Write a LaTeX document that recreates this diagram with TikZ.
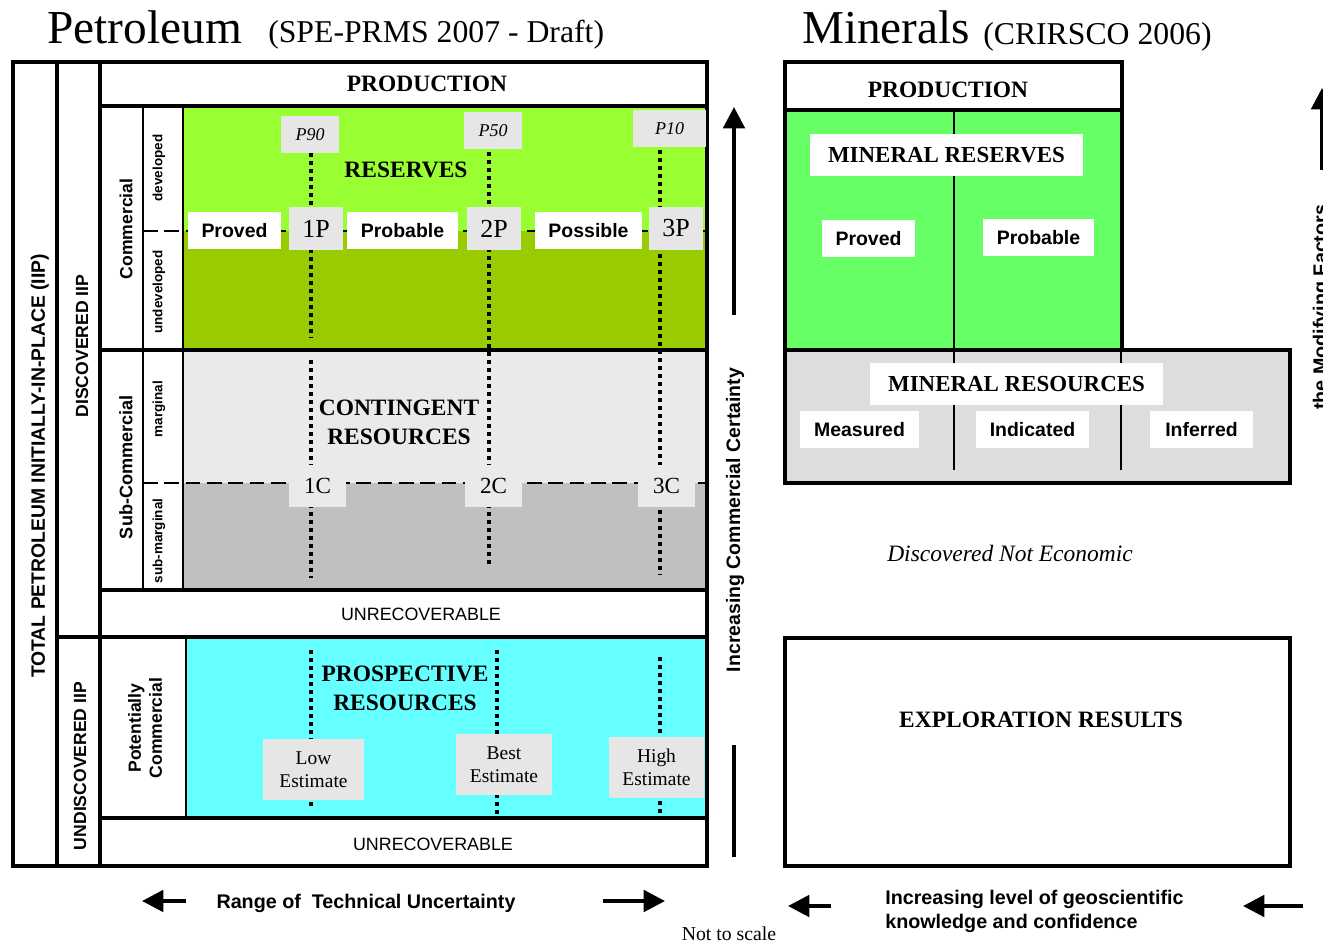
\documentclass[tikz,border=0pt]{standalone}
\usepackage{fontspec}
\setmainfont{Liberation Serif}
\setsansfont{Liberation Sans}
\usetikzlibrary{arrows.meta,positioning}

% font size and baselineskip in pt
\newcommand{\fsz}[2]{\fontsize{#1}{#2}\selectfont}

% column edges (px, left chart)
\newcommand{\xTot}{13}
\newcommand{\xDis}{57}
\newcommand{\xTab}{100}
\newcommand{\xCom}{143}
\newcommand{\xSub}{183}
\newcommand{\xEnd}{707}
% row edges
\newcommand{\yTop}{62}
\newcommand{\yProd}{106}
\newcommand{\ySplitR}{231}
\newcommand{\yCom}{350}
\newcommand{\ySplitC}{483}
\newcommand{\ySub}{590}
\newcommand{\yUnr}{637}
\newcommand{\yPro}{818}
\newcommand{\yBot}{866}

\definecolor{resvlight}{HTML}{99FF33}
\definecolor{resvdark}{HTML}{99CC00}
\definecolor{contlight}{HTML}{EAEAEA}
\definecolor{contdark}{HTML}{C0C0C0}
\definecolor{prospcyan}{HTML}{66FFFF}
\definecolor{taggrey}{HTML}{E6E6E6}
\definecolor{minegreen}{HTML}{66FF66}
\definecolor{minegrey}{HTML}{DDDDDD}

% name/x/y/width/text
\def\ptags{
  p90/310/134.5/58/P90,
  p50/493/130.5/58/P50,
  p10/669.5/128.5/73/P10
}
\def\reserveplates{
  proved/234.5/93/Proved,
  probable/402.5/111/Probable,
  possible/588.5/107/Possible
}

\tikzset{
  boxline/.style   = {line width=2.6pt, draw=black},
  colline/.style   = {line width=1.9pt, draw=black},
  divline/.style   = {line width=1.1pt, draw=black},
  splitline/.style = {line width=2pt, dash pattern=on 11pt off 5pt},
  pline/.style     = {line width=2.4pt, dash pattern=on 3pt off 3pt},
  boxwh/.style 2 args = {minimum width=#1*0.75pt, minimum height=#2*0.75pt},
  heading/.style   = {inner sep=0pt, font=\bfseries\fsz{17.6}{21.8}, align=center},
  tagbox/.style    = {fill=taggrey, inner sep=0pt},
  platebox/.style  = {fill=white, inner sep=0pt, font=\sffamily\bfseries\fsz{14.6}{17}},
  sidelabel/.style = {rotate=90, inner sep=0pt, font=\sffamily\bfseries\fsz{13.2}{15.8}, align=center},
  smallside/.style = {rotate=90, inner sep=0pt, font=\sffamily\bfseries\fsz{10.1}{12}},
  plainsans/.style = {inner sep=0pt, font=\sffamily\fsz{13.4}{16}},
  bigarrow/.style  = {-{Triangle[length=16pt,width=16pt]}, line width=3pt},
}

\begin{document}
\begin{tikzpicture}[x=0.75pt, y=-0.75pt]
  \useasboundingbox (0,0) rectangle (1323,943);

  % titles
  \node[anchor=base west, inner sep=0pt, font=\fsz{35.5}{40}] (pettitle) at (47,43) {Petroleum};
  \node[anchor=base west, inner sep=0pt, font=\fsz{23.8}{28}] (petsub) at (268,42) {(SPE-PRMS 2007 - Draft)};
  \node[anchor=base west, inner sep=0pt, font=\fsz{35.4}{40}] (mintitle) at (802,43) {Minerals};
  \node[anchor=base west, inner sep=0pt, font=\fsz{23.8}{28}] (minsub) at (983,44) {(CRIRSCO 2006)};

  %% ---------------- Petroleum chart ----------------
  % class fills
  \fill[resvlight] (\xSub,\yProd) rectangle (\xEnd,\ySplitR);
  \fill[resvdark]  (\xSub,\ySplitR) rectangle (\xEnd,\yCom);
  \fill[contlight] (\xSub,\yCom) rectangle (\xEnd,\ySplitC);
  \fill[contdark]  (\xSub,\ySplitC) rectangle (\xEnd,\ySub);
  \fill[prospcyan] (186,\yUnr) rectangle (\xEnd,\yPro);

  % frame, rows and columns
  \draw[boxline] (\xTot,\yTop) rectangle (\xEnd,\yBot);
  \draw[boxline] (\xDis,\yTop) -- (\xDis,\yBot);
  \draw[boxline] (\xTab,\yTop) -- (\xTab,\yBot);
  \draw[boxline] (\xTab,\yProd) -- (\xEnd,\yProd);
  \draw[boxline] (\xTab,\yCom) -- (\xEnd,\yCom);
  \draw[boxline] (\xTab,\ySub) -- (\xEnd,\ySub);
  \draw[boxline] (\xDis,\yUnr) -- (\xEnd,\yUnr);
  \draw[boxline] (\xTab,\yPro) -- (\xEnd,\yPro);
  \draw[colline] (\xCom,\yProd) -- (\xCom,\ySub);
  \draw[colline] (\xSub,\yProd) -- (\xSub,\ySub);
  \draw[colline] (186,\yUnr) -- (186,\yPro);

  % developed / marginal splits
  \draw[splitline] (\xCom,\ySplitR) -- (\xEnd,\ySplitR);
  \draw[splitline] (\xCom,\ySplitC) -- (\xEnd,\ySplitC);

  % uncertainty guides
  \draw[pline] (311,153) -- (311,338);
  \draw[pline] (311,360) -- (311,578);
  \draw[pline] (489,152) -- (489,567);
  \draw[pline] (660,150) -- (660,575);
  \draw[pline] (311,650) -- (311,807);
  \draw[pline] (497,650) -- (497,815);
  \draw[pline] (660,657) -- (660,813);

  % probability tags
  \foreach \nm/\xx/\yy/\ww/\txt in \ptags {
    \node[tagbox, boxwh={\ww}{37}, font=\itshape\fsz{13.5}{16}] (\nm) at (\xx,\yy) {\txt};
  }
  \foreach \nm/\xx/\ww/\txt in \reserveplates {
    \node[platebox, boxwh={\ww}{37}] (\nm) at (\xx,230.5) {\txt};
  }
  \foreach \nm/\xx/\txt in {cumP1/316/1P, cumP2/494/2P, cumP3/676/3P} {
    \node[tagbox, boxwh={54}{43}, font=\fsz{19.5}{22}] (\nm) at (\xx,228.5) {\txt};
  }
  \foreach \nm/\xx/\txt in {cumC1/317.5/1C, cumC2/493.5/2C, cumC3/666.5/3C} {
    \node[tagbox, fill=contlight, boxwh={57}{42}, font=\fsz{17.3}{20}] (\nm) at (\xx,486) {\txt};
  }
  \node[tagbox, boxwh={101}{61}, font=\fsz{14.6}{17.3}, align=center] (lowest) at (313.5,769.5) {Low\\Estimate};
  \node[tagbox, boxwh={96}{61}, font=\fsz{14.6}{17.3}, align=center] (bestest) at (504,764.5) {Best\\Estimate};
  \node[tagbox, boxwh={95}{61}, font=\fsz{14.6}{17.3}, align=center] (highest) at (656.5,767.5) {High\\Estimate};

  % class names
  \node[heading] (prodL) at (427,84) {PRODUCTION};
  \node[heading] (reserves) at (406,170) {RESERVES};
  \node[heading] (contingent) at (399,422) {CONTINGENT\\RESOURCES};
  \node[heading] (prospective) at (405,688) {PROSPECTIVE\\RESOURCES};
  \node[plainsans] (unrecA) at (421,614) {UNRECOVERABLE};
  \node[plainsans] (unrecB) at (433,844) {UNRECOVERABLE};

  % side captions
  \node[sidelabel, font=\sffamily\bfseries\fsz{14.5}{17}] (total) at (40,466) {TOTAL PETROLEUM INITIALLY-IN-PLACE (IIP)};
  \node[sidelabel] (discovered) at (82,346) {DISCOVERED IIP};
  \node[sidelabel] (undiscovered) at (80,766) {UNDISCOVERED IIP};
  \node[sidelabel] (commercial) at (126,229) {Commercial};
  \node[sidelabel, font=\sffamily\bfseries\fsz{13.6}{16}] (subcommercial) at (126,467) {Sub-Commercial};
  \node[smallside] (developed) at (159,168) {developed};
  \node[smallside] (undeveloped) at (159,292) {undeveloped};
  \node[smallside] (marginal) at (159,409) {marginal};
  \node[smallside] (submarginal) at (159,541) {sub-marginal};
  \node[sidelabel] (potcommercial) at (145,728) {Potentially\\Commercial};

  % commercial certainty axis
  \coordinate (certlow) at (734,315);
  \coordinate (certhigh) at (734,107);
  \coordinate (certfoot) at (734,745);
  \coordinate (certbase) at (734,857);
  \draw[bigarrow] (certlow) -- (certhigh);
  \draw[line width=3pt] (certfoot) -- (certbase);
  \node[sidelabel, font=\sffamily\bfseries\fsz{14.6}{17}] (certainty) at (735,520) {Increasing Commercial Certainty};

  % technical uncertainty axis
  \node[inner sep=0pt, font=\sffamily\bfseries\fsz{14.8}{17}] (range) at (366,903) {Range of\ \ Technical Uncertainty};
  \coordinate (rangeLa) at (186,901);
  \coordinate (rangeLb) at (142,901);
  \coordinate (rangeRa) at (603,901);
  \coordinate (rangeRb) at (665,901);
  \draw[bigarrow] (rangeLa) -- (rangeLb);
  \draw[bigarrow] (rangeRa) -- (rangeRb);
  \node[inner sep=0pt, font=\fsz{14.8}{17}] (notscale) at (729,934) {Not to scale};

  %% ---------------- Minerals chart ----------------
  \fill[minegreen] (785,110) rectangle (1122,350);
  \fill[minegrey]  (785,350) rectangle (1290,483);
  \draw[divline] (954,110) -- (954,470);
  \draw[divline] (1121,350) -- (1121,470);
  \draw[boxline] (785,62) rectangle (1122,350);
  \draw[boxline] (785,110) -- (1122,110);
  \draw[boxline] (785,350) rectangle (1290,483);
  \draw[boxline] (785,638) rectangle (1290,866);

  \node[heading] (prodR) at (948,90) {PRODUCTION};
  \node[platebox, boxwh={273}{42}, font=\bfseries\fsz{17.2}{20}] (minreserves) at (946.5,155) {MINERAL RESERVES};
  \node[platebox, boxwh={93}{37}] (mproved) at (868.5,238.5) {Proved};
  \node[platebox, boxwh={111}{37}] (mprobable) at (1038.5,237.5) {Probable};
  \node[platebox, boxwh={293}{42}, font=\bfseries\fsz{17.2}{20}] (minresources) at (1016.5,384) {MINERAL RESOURCES};
  \node[platebox, boxwh={119}{37}] (measured) at (859.5,429.5) {Measured};
  \node[platebox, boxwh={113}{37}] (indicated) at (1032.5,429.5) {Indicated};
  \node[platebox, boxwh={103}{37}] (inferred) at (1201.5,429.5) {Inferred};

  \node[inner sep=0pt, font=\itshape\fsz{17.6}{20}] (notecon) at (1010,553) {Discovered Not Economic};
  \node[heading] (exploration) at (1041,720) {EXPLORATION RESULTS};

  % geoscientific confidence axis
  \node[anchor=west, inner sep=0pt, align=left, font=\sffamily\bfseries\fsz{14.8}{18}] (confidence) at (885,911)
    {Increasing level of geoscientific\\knowledge and confidence};
  \coordinate (confLa) at (831,906);
  \coordinate (confLb) at (788,906);
  \coordinate (confRa) at (1303,906);
  \coordinate (confRb) at (1243,906);
  \draw[bigarrow] (confLa) -- (confLb);
  \draw[bigarrow] (confRa) -- (confRb);

  % modifying factors axis (runs off the right edge)
  \coordinate (modlow) at (1322,170);
  \coordinate (modhigh) at (1322,88);
  \draw[bigarrow] (modlow) -- (modhigh);
  \node[rotate=90, anchor=base west, inner sep=0pt, font=\sffamily\bfseries\fsz{14.8}{17}] (modifying) at (1327,410) {the Modifying Factors};
\end{tikzpicture}
\end{document}
